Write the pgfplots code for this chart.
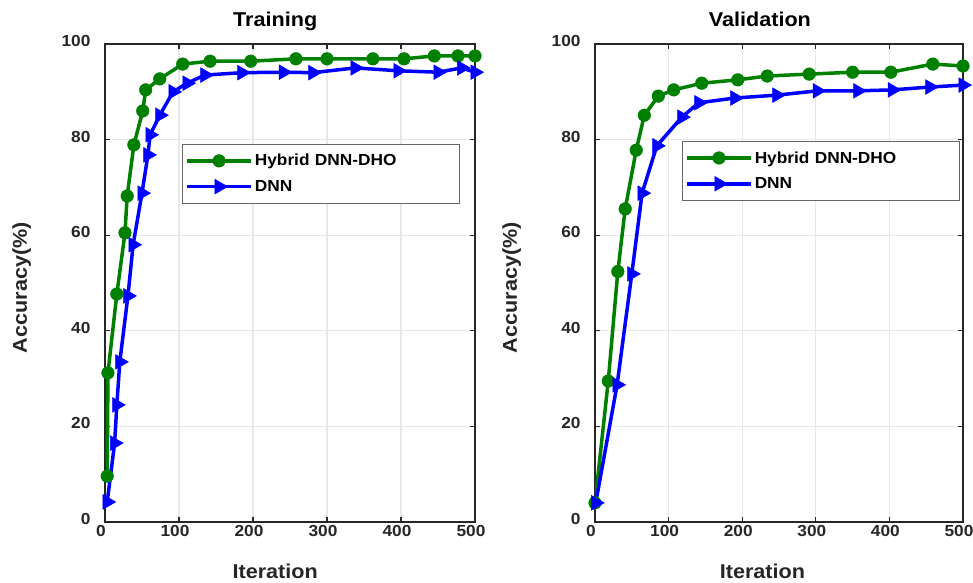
\documentclass[border=0pt]{standalone}
\usepackage{fontspec}
\setmainfont{Liberation Sans}[FakeStretch=1.08]
\usepackage{pgfplots}
\pgfplotsset{compat=1.18}
\definecolor{mgreen}{RGB}{0,128,0}
\definecolor{mblue}{RGB}{0,0,255}
\definecolor{axgray}{RGB}{38,38,38}
\definecolor{gridgray}{RGB}{232,232,232}

\pgfplotsset{
  myaxis/.style={
    scale only axis, width=370pt, height=478pt,
    xmin=0, xmax=500, ymin=0, ymax=100,
    xtick={0,100,...,500}, ytick={0,20,...,100},
    grid=major, major grid style={gridgray, line width=1.2pt},
    axis line style={axgray, line width=1.5pt},
    tick style={axgray, line width=1.2pt},
    tick align=inside, major tick length=5pt,
    /pgf/number format/assume math mode=true,
    tick label style={font=\fontsize{16}{16}\selectfont\bfseries, text=axgray},
    xticklabel style={xshift=-4pt},
    yticklabel style={xshift=-11pt, yshift=3pt},
    xlabel={Iteration}, ylabel={Accuracy(\%)},
    label style={font=\fontsize{20}{20}\selectfont\bfseries, text=axgray},
    title style={font=\fontsize{20}{20}\selectfont\bfseries, anchor=base},
    ylabel style={at={(axis description cs:-0.211,0.49)}, anchor=base},
    legend cell align=left,
    legend image code/.code={
      \draw[mark repeat=2,mark phase=2] plot coordinates {(0pt,0pt)(32pt,0pt)(64pt,0pt)};},
    legend style={anchor=north west, draw=gray!80!black, line width=0.8pt, fill=white,
      font=\fontsize{16}{16}\selectfont\bfseries, row sep=9pt, inner ysep=8pt,
      nodes={text width=200pt}},
  },
  hyb/.style={mgreen, line width=3.5pt, mark=*, mark size=6.3pt, mark options={line width=0.5pt}},
  dnn/.style={mblue, line width=3.5pt, mark=triangle*, mark size=8.5pt, mark options={rotate=-90, line width=0.5pt}},
}

\begin{document}
\begin{tikzpicture}[x=1pt,y=1pt]
% Training
\begin{axis}[myaxis, at={(105pt,60pt)}, anchor=south west,
  title={Training}, title style={at={(axis description cs:0.46,1)}, yshift=11pt},
  xlabel style={at={(axis description cs:0.46,0)}, anchor=base, yshift=-56pt},
  legend style={at={(0.208,0.791)}}]
\addplot[hyb] coordinates {
 (3,9.6) (4,31.2) (16,47.7) (27,60.5) (30,68.2) (39,78.9) (51,86) (55,90.4)
 (74,92.7) (105,95.8) (142,96.4) (197,96.4) (258,96.9) (300,96.9) (362,96.9)
 (404,96.9) (445,97.5) (477,97.5) (500,97.5)};
\addlegendentry{Hybrid DNN-DHO}
\addplot[dnn] coordinates {
 (3,4.2) (13,16.5) (16,24.5) (20,33.5) (31,47.3) (38,58) (50,68.8) (58,76.8)
 (61,81) (74,85.1) (92,90) (111,91.8) (135,93.5) (185,94) (241,94.1) (281,94)
 (338,95) (396,94.4) (450,94.1) (482,95) (500,94.1)};
\addlegendentry{DNN}
\end{axis}
% Validation
\begin{axis}[myaxis, at={(595pt,60pt)}, anchor=south west, width=368pt,
  title={Validation}, title style={at={(axis description cs:0.448,1)}, yshift=11pt},
  xlabel style={at={(axis description cs:0.455,0)}, anchor=base, yshift=-56pt},
  ylabel style={at={(axis description cs:-0.212,0.49)}},
  legend style={at={(0.236,0.797)}}]
\addplot[hyb] coordinates {
 (0,4) (18,29.5) (31,52.4) (41,65.5) (56,77.8) (67,85.1) (86,89.1) (107,90.4)
 (145,91.8) (194,92.5) (234,93.3) (291,93.7) (350,94.1) (402,94.1) (459,95.8)
 (500,95.4)};
\addlegendentry{Hybrid DNN-DHO}
\addplot[dnn] coordinates {
 (1,4) (30,28.7) (50,51.9) (64,68.8) (84,78.7) (118,84.7) (141,87.7) (190,88.7)
 (247,89.3) (302,90.2) (357,90.2) (404,90.4) (455,91) (500,91.4)};
\addlegendentry{DNN}
\end{axis}
\pgfresetboundingbox
\useasboundingbox (0,0) rectangle (973,582);
\end{tikzpicture}
\end{document}
